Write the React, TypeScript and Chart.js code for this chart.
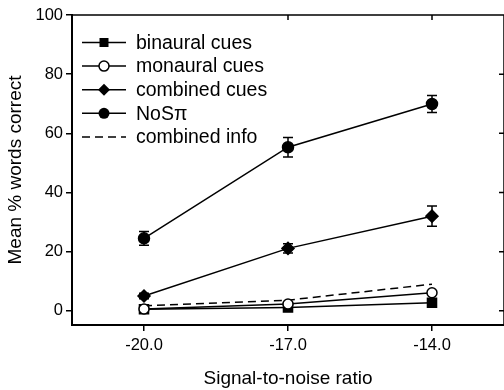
import React, { useEffect, useRef } from "react";
import { Chart, registerables } from "chart.js";

Chart.register(...registerables);

const snr = [-20, -17, -14];
const xTickValues = [-20, -17, -14];
const yTickValues = [0, 20, 40, 60, 80, 100];
const binaural = [0.5, 1.1, 2.7];
const monaural = [0.6, 2.3, 6.1];
const combinedCues = [5.0, 21.1, 32.0];
const combinedCuesErr = [0.9, 1.6, 3.4];
const noSpi = [24.5, 55.3, 69.9];
const noSpiErr = [2.3, 3.3, 2.9];
const combinedInfo = [1.7, 3.6, 9.0];

const legendLabels = ["binaural cues", "monaural cues", "combined cues", "NoS\u03c0", "combined info"];

const FONT = "'Liberation Sans', Arial, sans-serif";

const pts = (ys: number[]) => snr.map((x, i) => ({ x, y: ys[i] }));

export default function App() {
  const ref = useRef<HTMLCanvasElement>(null);
  useEffect(() => {
    if (!ref.current) return;
    const errorBars = {
      id: "errorBars",
      afterDatasetsDraw(chart: any) {
        const ctx = chart.ctx;
        const xs = chart.scales.x;
        const ys = chart.scales.y;
        chart.data.datasets.forEach((ds: any) => {
          if (!ds.errors) return;
          ds.data.forEach((p: any, i: number) => {
            const e = ds.errors[i];
            const px = xs.getPixelForValue(p.x);
            const y1 = ys.getPixelForValue(p.y + e);
            const y2 = ys.getPixelForValue(p.y - e);
            ctx.save();
            ctx.strokeStyle = "#000";
            ctx.lineWidth = 1.5;
            ctx.beginPath();
            ctx.moveTo(px, y1);
            ctx.lineTo(px, y2);
            ctx.moveTo(px - 5, y1);
            ctx.lineTo(px + 5, y1);
            ctx.moveTo(px - 5, y2);
            ctx.lineTo(px + 5, y2);
            ctx.stroke();
            ctx.restore();
          });
        });
      },
    };
    const frame = {
      id: "frame",
      afterDraw(chart: any) {
        const ctx = chart.ctx;
        const a = chart.chartArea;
        const xs = chart.scales.x;
        const ys = chart.scales.y;
        ctx.save();
        ctx.strokeStyle = "#000";
        ctx.lineWidth = 1.5;
        ctx.beginPath();
        ctx.moveTo(a.left, a.top);
        ctx.lineTo(a.right, a.top);
        ctx.moveTo(a.right, a.top);
        ctx.lineTo(a.right, a.bottom);
        xTickValues.slice(1).forEach((v) => {
          const px = xs.getPixelForValue(v);
          ctx.moveTo(px, a.top);
          ctx.lineTo(px, a.top + 5);
        });
        yTickValues.slice(0, -1).forEach((v) => {
          const py = ys.getPixelForValue(v);
          ctx.moveTo(a.right, py);
          ctx.lineTo(a.right - 5, py);
        });
        ctx.stroke();
        // legend
        const lx0 = 82, lx1 = 126, mx = 104, tx = 136;
        const y0 = 42.5, dy = 23.6;
        ctx.font = "19.5px " + FONT;
        ctx.textBaseline = "middle";
        ctx.fillStyle = "#000";
        legendLabels.forEach((lab, i) => {
          const y = y0 + dy * i;
          ctx.beginPath();
          ctx.setLineDash(i === 4 ? [8, 5] : []);
          ctx.moveTo(lx0, y);
          ctx.lineTo(lx1, y);
          ctx.stroke();
          ctx.setLineDash([]);
          ctx.beginPath();
          if (i === 0) {
            ctx.rect(mx - 4.5, y - 4.5, 9, 9);
            ctx.fill();
          } else if (i === 1) {
            ctx.arc(mx, y, 5, 0, Math.PI * 2);
            ctx.fillStyle = "#fff";
            ctx.fill();
            ctx.stroke();
            ctx.fillStyle = "#000";
          } else if (i === 2) {
            ctx.moveTo(mx, y - 6);
            ctx.lineTo(mx + 6, y);
            ctx.lineTo(mx, y + 6);
            ctx.lineTo(mx - 6, y);
            ctx.closePath();
            ctx.fill();
          } else if (i === 3) {
            ctx.arc(mx, y, 5.5, 0, Math.PI * 2);
            ctx.fill();
          }
          ctx.fillText(lab, tx, y + 1);
        });
        ctx.restore();
      },
    };
    const base = {
      borderColor: "#000",
      borderWidth: 1.5,
      pointBorderColor: "#000",
      pointBackgroundColor: "#000",
      showLine: true,
      tension: 0,
    };
    const chart = new Chart(ref.current, {
      type: "scatter",
      data: {
        datasets: [
          { ...base, label: "monaural cues", data: pts(monaural), pointStyle: "circle", pointRadius: 5, pointBackgroundColor: "#fff", pointBorderWidth: 1.5 },
          { ...base, label: "binaural cues", data: pts(binaural), pointStyle: "rect", pointRadius: 6.4 },
          { ...base, label: "combined cues", data: pts(combinedCues), pointStyle: "rectRot", pointRadius: 6, errors: combinedCuesErr } as any,
          { ...base, label: "NoS\u03c0", data: pts(noSpi), pointStyle: "circle", pointRadius: 5.5, errors: noSpiErr } as any,
          { ...base, label: "combined info", data: pts(combinedInfo), pointRadius: 0, borderDash: [8, 5] },
        ],
      },
      options: {
        animation: false,
        responsive: false,
        layout: { autoPadding: false, padding: { top: 15, left: 0, right: 0, bottom: 0 } },
        plugins: { legend: { display: false }, tooltip: { enabled: false } },
        scales: {
          x: {
            type: "linear",
            min: -21.5,
            max: -12.5,
            afterBuildTicks: (s: any) => {
              s.ticks = xTickValues.map((v) => ({ value: v }));
            },
            afterFit: (s: any) => {
              s.height = 65;
              s.paddingLeft = 0;
              s.paddingRight = 0;
            },
            ticks: {
              color: "#000",
              font: { family: FONT, size: 16.5 },
              padding: 5,
              callback: (v: any) => Number(v).toFixed(1),
            },
            grid: { drawOnChartArea: false, drawTicks: true, tickLength: 6, color: "#000", lineWidth: 1.5 },
            border: { display: true, color: "#000", width: 2 },
            title: {
              display: true,
              text: "Signal-to-noise ratio",
              color: "#000",
              font: { family: FONT, size: 19, lineHeight: 1.2 },
              padding: { top: 4.6, bottom: 0 },
            },
          },
          y: {
            min: -4.8,
            max: 100,
            afterBuildTicks: (s: any) => {
              s.ticks = yTickValues.map((v) => ({ value: v }));
            },
            afterFit: (s: any) => {
              s.width = 72;
              s.paddingTop = 0;
              s.paddingBottom = 0;
            },
            ticks: {
              color: "#000",
              font: { family: FONT, size: 16.5 },
              padding: 3,
            },
            grid: { drawOnChartArea: false, drawTicks: true, tickLength: 6, color: "#000", lineWidth: 1.5 },
            border: { display: true, color: "#000", width: 2 },
            title: {
              display: true,
              text: "Mean % words correct",
              color: "#000",
              font: { family: FONT, size: 19, lineHeight: 1.2 },
              padding: { top: 4.6, bottom: 0 },
            },
          },
        },
      },
      plugins: [errorBars, frame],
    } as any);
    return () => chart.destroy();
  }, []);
  return (
    <div style={{ position: "absolute", left: 0, top: 0, width: 504, height: 390, background: "#fff" }}>
      <canvas ref={ref} width={504} height={390} style={{ display: "block" }} />
    </div>
  );
}
